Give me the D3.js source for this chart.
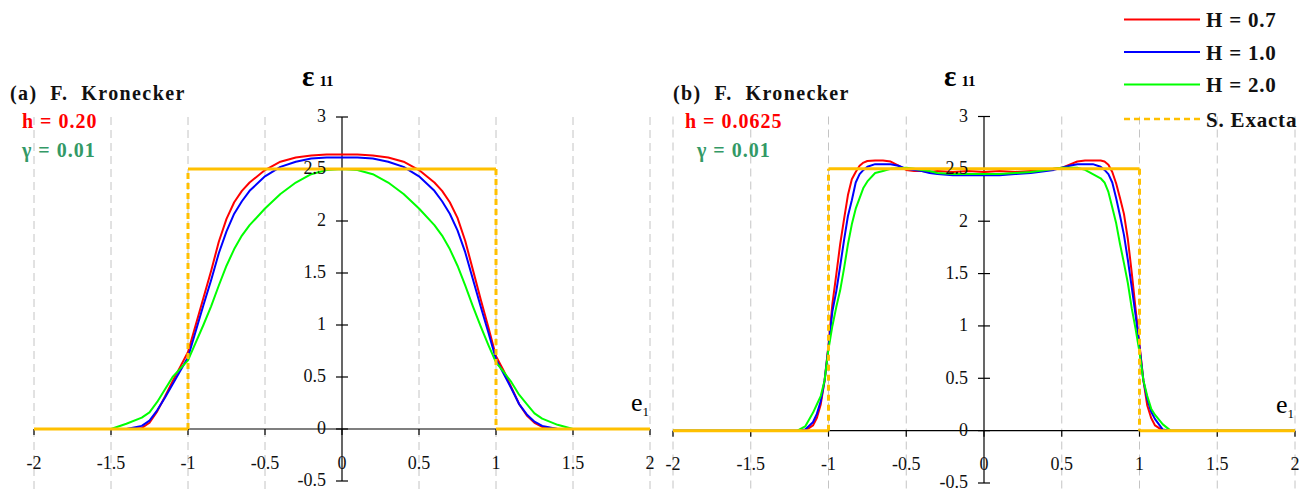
<!DOCTYPE html>
<html><head><meta charset="utf-8">
<script src="https://cdn.jsdelivr.net/npm/d3@7"></script>
<style>
html,body{margin:0;padding:0;background:#fff;}
svg{display:block;}
text{font-family:"Liberation Serif","Times New Roman","DejaVu Serif",serif;white-space:pre;}
</style></head>
<body><svg id="c" width="1315" height="491" font-family="Liberation Serif, Times New Roman, DejaVu Serif, serif"></svg>
<script>
// ---------- data ----------
const seriesNames = ["H = 0.7", "H = 1.0", "H = 2.0", "S. Exacta"];
const xTicks = [-2, -1.5, -1, -0.5, 0, 0.5, 1, 1.5, 2];
const yTicks = [-0.5, 0, 0.5, 1, 1.5, 2, 2.5, 3];
const xTickLabels = ["-2", "-1.5", "-1", "-0.5", "0", "0.5", "1", "1.5", "2"];
const yTickLabels = ["-0.5", "0", "0.5", "1", "1.5", "2", "2.5", "3"];

// panel (a): h = 0.20
const xA = [-2,-1.6,-1.5,-1.4,-1.3,-1.25,-1.2,-1.15,-1.1,-1.05,-1.0,-0.95,-0.9,-0.85,-0.8,-0.75,-0.7,-0.65,-0.6,-0.5,-0.4,-0.3,-0.2,-0.1,0,
  0.1,0.2,0.3,0.4,0.5,0.6,0.65,0.7,0.75,0.8,0.85,0.9,0.95,1.0,1.05,1.1,1.15,1.2,1.25,1.3,1.4,1.5,1.6,2];
const redA = [0,0,0,0,0.01,0.06,0.17,0.31,0.46,0.60,0.74,1.00,1.26,1.52,1.80,2.02,2.18,2.29,2.37,2.49,2.57,2.61,2.63,2.64,2.64,
  2.64,2.63,2.61,2.57,2.49,2.37,2.29,2.18,2.03,1.81,1.53,1.25,0.98,0.70,0.56,0.40,0.24,0.13,0.06,0.02,0,0,0,0];
const blueA = [0,0,0,0,0.03,0.08,0.18,0.30,0.43,0.56,0.69,0.94,1.19,1.43,1.69,1.90,2.07,2.19,2.29,2.43,2.52,2.57,2.60,2.61,2.61,
  2.61,2.60,2.57,2.52,2.43,2.29,2.19,2.07,1.91,1.70,1.44,1.18,0.93,0.67,0.53,0.39,0.24,0.14,0.07,0.03,0,0,0,0];
const greenA = [0,0,0,0.05,0.11,0.16,0.26,0.38,0.50,0.58,0.66,0.83,1.00,1.18,1.38,1.57,1.73,1.86,1.96,2.12,2.26,2.37,2.45,2.49,2.50,
  2.49,2.45,2.37,2.26,2.12,1.96,1.86,1.73,1.57,1.38,1.18,0.99,0.81,0.64,0.55,0.45,0.33,0.24,0.15,0.10,0.04,0,0,0];

// panel (b): h = 0.0625
const xB = [-2,-1.25,-1.2,-1.15,-1.1,-1.075,-1.05,-1.025,-1.0,-0.975,-0.95,-0.925,-0.9,-0.875,-0.85,-0.825,-0.8,-0.775,-0.75,-0.7,-0.65,-0.6,-0.55,-0.5,-0.45,-0.4,-0.35,-0.3,
  -0.2,-0.1,0,0.1,0.2,
  0.3,0.35,0.4,0.45,0.5,0.55,0.6,0.65,0.7,0.75,0.775,0.8,0.825,0.85,0.875,0.9,0.925,0.95,0.975,1.0,1.025,1.05,1.075,1.1,1.15,1.2,1.25,2];
const redB = [0,0,0,0,0.05,0.12,0.25,0.48,0.82,1.21,1.49,1.78,2.02,2.25,2.40,2.47,2.53,2.56,2.575,2.58,2.58,2.57,2.53,2.49,2.48,2.48,2.47,2.48,
  2.47,2.48,2.47,2.48,2.47,
  2.48,2.48,2.49,2.50,2.51,2.54,2.57,2.58,2.58,2.58,2.57,2.54,2.47,2.36,2.22,2.07,1.83,1.51,1.16,0.82,0.48,0.24,0.12,0.05,0,0,0,0];
const blueB = [0,0,0,0.01,0.08,0.16,0.28,0.48,0.80,1.14,1.33,1.57,1.82,2.05,2.20,2.37,2.45,2.49,2.52,2.545,2.545,2.545,2.53,2.50,2.49,2.48,2.46,2.45,
  2.44,2.44,2.44,2.44,2.45,
  2.46,2.47,2.48,2.49,2.51,2.53,2.545,2.545,2.545,2.52,2.49,2.45,2.37,2.22,2.05,1.87,1.63,1.37,1.10,0.80,0.48,0.30,0.18,0.11,0.01,0,0,0];
const greenB = [0,0,0,0.04,0.17,0.25,0.33,0.48,0.78,1.00,1.18,1.34,1.55,1.78,1.97,2.12,2.22,2.32,2.38,2.46,2.48,2.50,2.505,2.51,2.50,2.49,2.48,2.46,
  2.45,2.45,2.45,2.45,2.46,
  2.47,2.48,2.49,2.50,2.51,2.51,2.51,2.49,2.45,2.41,2.37,2.28,2.13,1.98,1.78,1.60,1.41,1.17,0.97,0.75,0.48,0.33,0.21,0.15,0.06,0,0,0];

// exact solution (step)
const exactX = [-2, -1, -1, 1, 1, 2];
const exactY = [0, 0, 2.5, 2.5, 0, 0];

const colors = ["#ff0000", "#0000ff", "#00ff00", "#ffc000"];

// ---------- drawing ----------
const FONT = "Liberation Serif, Times New Roman, DejaVu Serif, serif";
const svg = d3.select("#c");

function panel(cfg) {
  const x = d3.scaleLinear().domain([-2, 2]).range(cfg.xr);
  const y = d3.scaleLinear().domain([-0.5, 3]).range(cfg.yr);
  const g = svg.append("g").attr("font-family", FONT);

  // dashed vertical grid
  g.selectAll("line.grid").data(xTicks.filter(d => d !== 0)).join("line")
    .attr("x1", d => x(d)).attr("x2", d => x(d))
    .attr("y1", y(3)).attr("y2", 491)
    .attr("stroke", "#c4c4c4").attr("stroke-width", 1).attr("stroke-dasharray", "8,5");

  // x axis
  g.append("line").attr("x1", x(-2)).attr("x2", x(2)).attr("y1", y(0)).attr("y2", y(0))
    .attr("stroke", "#000").attr("stroke-width", 1.2);
  g.selectAll("line.xt").data(xTicks).join("line")
    .attr("x1", d => x(d)).attr("x2", d => x(d)).attr("y1", y(0)).attr("y2", y(0) + 6)
    .attr("stroke", "#000").attr("stroke-width", 1.2);
  // y axis
  g.append("line").attr("x1", x(0)).attr("x2", x(0)).attr("y1", y(3)).attr("y2", y(-0.5))
    .attr("stroke", "#000").attr("stroke-width", 1.2);
  g.selectAll("line.yt").data(yTicks).join("line")
    .attr("x1", x(0) - 6).attr("x2", x(0) + 6).attr("y1", d => y(d)).attr("y2", d => y(d))
    .attr("stroke", "#000").attr("stroke-width", 1.2);

  // curves
  const line = d3.line().x(d => x(d[0])).y(d => y(d[1]));
  cfg.series.forEach((s, i) => {
    const pts = cfg.xs.map((v, k) => [v, s[k]]);
    g.append("path").attr("d", line(pts)).attr("fill", "none")
      .attr("stroke", colors[i]).attr("stroke-width", 2).attr("stroke-linejoin", "round");
  });

  // exact solution: horizontal parts solid, vertical jumps dashed
  for (let k = 0; k < exactX.length - 1; k++) {
    const vertical = exactX[k] === exactX[k + 1];
    g.append("line")
      .attr("x1", x(exactX[k])).attr("x2", x(exactX[k + 1]))
      .attr("y1", y(exactY[k])).attr("y2", y(exactY[k + 1]))
      .attr("stroke", colors[3]).attr("stroke-width", 3)
      .attr("stroke-dasharray", vertical ? "6,4" : null);
  }

  // tick labels
  g.selectAll("text.xl").data(xTicks).join("text")
    .attr("x", d => x(d)).attr("y", cfg.xLabelY).attr("text-anchor", "middle")
    .attr("font-size", 18).attr("fill", "#111").text((d, i) => xTickLabels[i]);
  g.selectAll("text.yl").data(yTicks).join("text")
    .attr("x", x(0) - 16).attr("y", d => y(d)).attr("dy", "0.3em").attr("text-anchor", "end")
    .attr("font-size", 18).attr("fill", "#111").text((d, i) => yTickLabels[i]);

  // axis titles
  const t = g.append("text").attr("x", x(0) - 40).attr("y", cfg.titleY);
  t.append("tspan").attr("font-size", 29).attr("font-weight", "bold").text("ε");
  t.append("tspan").attr("font-size", 15).attr("font-weight", "bold").attr("dx", 5).text("11");
  const e = g.append("text").attr("x", x(2) - 19).attr("y", y(0) - 18);
  e.append("tspan").attr("font-size", 26).text("e");
  e.append("tspan").attr("font-size", 13).attr("dy", 5).text("1");

  // panel annotations
  g.append("text").attr("x", cfg.labX).attr("y", 100).attr("font-size", 20).attr("font-weight", "bold")
    .attr("letter-spacing", 1.4).attr("fill", "#111").text(cfg.title);
  g.append("text").attr("x", cfg.hX).attr("y", 128).attr("font-size", 20).attr("font-weight", "bold")
    .attr("letter-spacing", 1.0).attr("fill", "#ff0000").text(cfg.hText);
  g.append("text").attr("x", cfg.gX).attr("y", 157).attr("font-size", 20).attr("font-weight", "bold")
    .attr("letter-spacing", 1.0).attr("fill", "#339966").text("γ = 0.01");
}

panel({ xr: [34, 650], yr: [481, 117], xs: xA, series: [redA, blueA, greenA],
  xLabelY: 469, titleY: 86, labX: 10, hX: 22, gX: 22, title: "(a)  F.  Kronecker", hText: "h = 0.20" });
panel({ xr: [673, 1295], yr: [483, 116.5], xs: xB, series: [redB, blueB, greenB],
  xLabelY: 470, titleY: 86, labX: 673, hX: 685, gX: 697, title: "(b)  F.  Kronecker", hText: "h = 0.0625" });

// legend
const legY = [19.5, 52, 84.5, 119];
const leg = svg.append("g").attr("font-family", FONT);
seriesNames.forEach((n, i) => {
  leg.append("line").attr("x1", 1124).attr("x2", 1200).attr("y1", legY[i]).attr("y2", legY[i])
    .attr("stroke", colors[i]).attr("stroke-width", i === 3 ? 2.5 : 2)
    .attr("stroke-dasharray", i === 3 ? "6,4" : null);
  leg.append("text").attr("x", 1206).attr("y", legY[i] + 7.5).attr("font-size", 21)
    .attr("font-weight", "bold").attr("letter-spacing", 0.8).attr("fill", "#111").text(n);
});
</script>
</body></html>
